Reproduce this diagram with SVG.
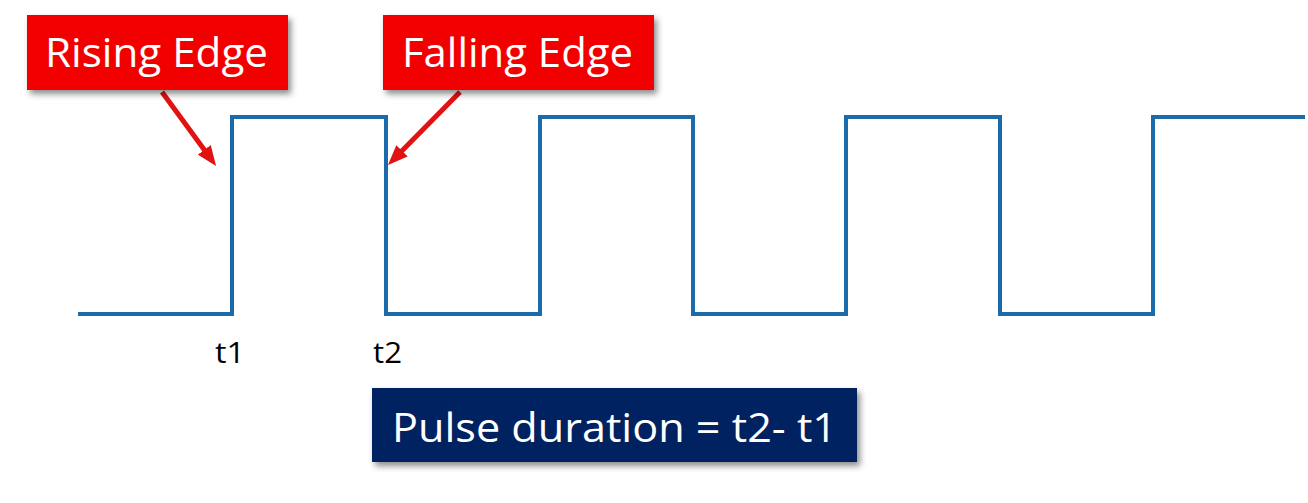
<svg xmlns="http://www.w3.org/2000/svg" width="1308" height="503" viewBox="0 0 1308 503">
<defs>
<style>
.lbl{font-family:"Open Sans","Liberation Sans",sans-serif;fill:#ffffff}
.tick{font-family:"Open Sans","Liberation Sans",sans-serif;fill:#000000;font-size:29px}
.arrow{stroke:#e21212;stroke-width:5;fill:none}
</style>
<filter id="sh" x="-10%" y="-20%" width="130%" height="150%">
<feDropShadow dx="3" dy="4" stdDeviation="3" flood-color="#000" flood-opacity="0.45"/>
</filter>
<marker id="ah" markerWidth="20" markerHeight="16" refX="8" refY="8" orient="auto" markerUnits="userSpaceOnUse">
<path d="M0,0 L20,8 L0,16 z" fill="#e21212"/>
</marker>
</defs>
<rect width="1308" height="503" fill="#ffffff"/>
<g id="waveform">
<path d="M78,314 H232 V117 H386 V314 H540 V117 H693 V314 H846 V117 H1000 V314 H1153 V117 H1305" fill="none" stroke="#1b6bab" stroke-width="4"/>
</g>
<g id="connectors">
<line class="arrow" x1="162" y1="92" x2="209" y2="156.3" marker-end="url(#ah)"/>
<line class="arrow" x1="460" y1="92" x2="396.4" y2="156.5" marker-end="url(#ah)"/>
</g>
<g id="rising-edge">
<rect x="27" y="15" width="261" height="75" fill="#f20000" filter="url(#sh)"/>
<text class="lbl" x="45" y="67" font-size="40" textLength="223" lengthAdjust="spacingAndGlyphs">Rising Edge</text>
</g>
<g id="falling-edge">
<rect x="383" y="15" width="271" height="75" fill="#f20000" filter="url(#sh)"/>
<text class="lbl" x="402" y="67" font-size="40" textLength="231" lengthAdjust="spacingAndGlyphs">Falling Edge</text>
</g>
<g id="t1">
<text class="tick" x="215" y="363" textLength="30" lengthAdjust="spacingAndGlyphs">t1</text>
</g>
<g id="t2">
<text class="tick" x="373" y="363" textLength="29" lengthAdjust="spacingAndGlyphs">t2</text>
</g>
<g id="pulse-duration">
<rect x="372" y="388" width="485" height="74" fill="#002060" filter="url(#sh)"/>
<text class="lbl" x="392" y="442" font-size="41" textLength="445" lengthAdjust="spacingAndGlyphs">Pulse duration = t2- t1</text>
</g>
</svg>
